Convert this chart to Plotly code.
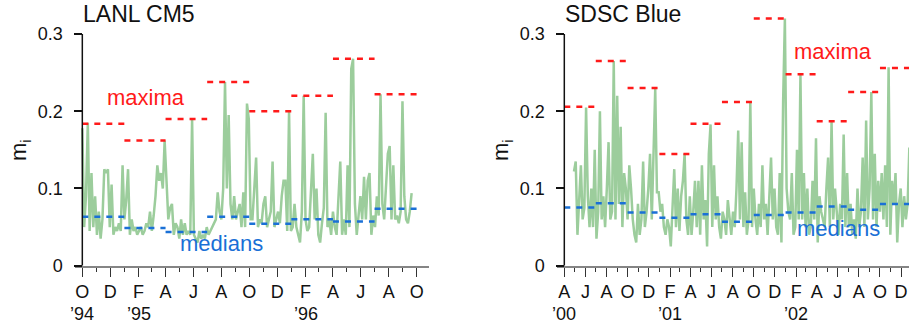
import pandas as pd
import plotly.graph_objects as go

W, H = 909, 329

# ---------------- data ----------------
lanl_start = "1994-10-01"
lanl_step_days = 4
lanl_values = [
    0.178, 0.05, 0.09, 0.185, 0.045, 0.12, 0.05, 0.09, 0.04, 0.07,
    0.035, 0.06, 0.125, 0.12, 0.125, 0.05, 0.105, 0.04, 0.05, 0.045,
    0.055, 0.045, 0.13, 0.06, 0.085, 0.125, 0.04, 0.06, 0.045, 0.05,
    0.04, 0.045, 0.05, 0.04, 0.045, 0.055, 0.05, 0.07, 0.045, 0.065,
    0.09, 0.13, 0.11, 0.12, 0.1, 0.162, 0.1, 0.06, 0.075, 0.08,
    0.04, 0.055, 0.05, 0.035, 0.06, 0.04, 0.055, 0.04, 0.045, 0.04,
    0.19, 0.04, 0.035, 0.03, 0.045, 0.035, 0.04, 0.035, 0.05, 0.04,
    0.045, 0.05, 0.055, 0.06, 0.095, 0.07, 0.06, 0.1, 0.238, 0.1,
    0.195, 0.08, 0.06, 0.09, 0.06, 0.07, 0.08, 0.05, 0.095, 0.05,
    0.21, 0.19, 0.06, 0.06, 0.095, 0.14, 0.05, 0.06, 0.055, 0.08,
    0.09, 0.05, 0.06, 0.07, 0.135, 0.05, 0.06, 0.07, 0.055, 0.09,
    0.11, 0.11, 0.045, 0.2, 0.045, 0.05, 0.08, 0.05, 0.04, 0.03,
    0.07, 0.22, 0.06, 0.045, 0.05, 0.1, 0.145, 0.06, 0.1, 0.04,
    0.03, 0.055, 0.075, 0.198, 0.05, 0.06, 0.04, 0.07, 0.05, 0.04,
    0.09, 0.135, 0.04, 0.06, 0.04, 0.13, 0.05, 0.255, 0.268, 0.08,
    0.04, 0.07, 0.09, 0.06, 0.115, 0.06, 0.11, 0.12, 0.04, 0.065,
    0.05, 0.09, 0.065, 0.222, 0.08, 0.06, 0.1, 0.145, 0.155, 0.06,
    0.13, 0.06, 0.065, 0.055, 0.07, 0.213, 0.09, 0.06, 0.055, 0.07,
    0.094,
]
lanl_quarters = ["1994-10-01", "1995-01-01", "1995-04-01", "1995-07-01", "1995-10-01",
                 "1996-01-01", "1996-04-01", "1996-07-01", "1996-10-01"]
lanl_maxima = [0.184, 0.162, 0.19, 0.238, 0.2, 0.22, 0.268, 0.222]
lanl_medians = [0.0635, 0.0488, 0.0436, 0.0635, 0.0544, 0.06, 0.0574, 0.0738]
lanl_tickvals = ["1994-10-01", "1994-12-01", "1995-02-01", "1995-04-01", "1995-06-01",
                 "1995-08-01", "1995-10-01", "1995-12-01", "1996-02-01", "1996-04-01",
                 "1996-06-01", "1996-08-01", "1996-10-01"]
lanl_ticktext = ["O", "D", "F", "A", "J", "A", "O", "D", "F", "A", "J", "A", "O"]
lanl_year_pos = ["1994-10-01", "1995-02-01", "1996-02-01"]
lanl_year_text = ["’94", "’95", "’96"]

sdsc_start = "2000-04-29"
sdsc_step_days = 5
sdsc_values = [
    0.122, 0.135, 0.04, 0.09, 0.13, 0.06, 0.075, 0.205, 0.09, 0.05,
    0.1, 0.05, 0.15, 0.035, 0.07, 0.2, 0.06, 0.09, 0.05, 0.1,
    0.16, 0.06, 0.07, 0.265, 0.06, 0.22, 0.08, 0.18, 0.05, 0.12,
    0.1, 0.06, 0.13, 0.1, 0.06, 0.04, 0.03, 0.08, 0.04, 0.06,
    0.135, 0.05, 0.07, 0.1, 0.145, 0.06, 0.16, 0.229, 0.095, 0.095,
    0.07, 0.08, 0.05, 0.04, 0.06, 0.05, 0.025, 0.07, 0.125, 0.05,
    0.1, 0.045, 0.09, 0.11, 0.145, 0.06, 0.04, 0.09, 0.04, 0.07,
    0.11, 0.05, 0.11, 0.04, 0.13, 0.06, 0.085, 0.025, 0.145, 0.183,
    0.05, 0.13, 0.06, 0.09, 0.05, 0.035, 0.07, 0.06, 0.04, 0.085,
    0.06, 0.04, 0.07, 0.05, 0.1, 0.175, 0.06, 0.16, 0.05, 0.095,
    0.04, 0.06, 0.212, 0.05, 0.1, 0.06, 0.04, 0.08, 0.05, 0.13,
    0.06, 0.08, 0.04, 0.1, 0.14, 0.06, 0.1, 0.05, 0.04, 0.12,
    0.03, 0.215, 0.32, 0.1, 0.07, 0.06, 0.12, 0.04, 0.05, 0.15,
    0.06, 0.247, 0.06, 0.12, 0.05, 0.1, 0.04, 0.05, 0.11, 0.06,
    0.165, 0.03, 0.09, 0.07, 0.06, 0.05, 0.1, 0.14, 0.05, 0.187,
    0.06, 0.1, 0.07, 0.04, 0.08, 0.06, 0.17, 0.05, 0.12, 0.05,
    0.08, 0.04, 0.06, 0.035, 0.1, 0.05, 0.07, 0.14, 0.05, 0.188,
    0.06, 0.1, 0.225, 0.06, 0.145, 0.05, 0.11, 0.07, 0.12, 0.06,
    0.13, 0.05, 0.257, 0.04, 0.11, 0.08, 0.12, 0.03, 0.08, 0.1,
    0.05, 0.09, 0.06, 0.08, 0.153,
]
sdsc_quarters = ["2000-04-01", "2000-07-01", "2000-10-01", "2001-01-01", "2001-04-01",
                 "2001-07-01", "2001-10-01", "2002-01-01", "2002-04-01", "2002-07-01",
                 "2002-10-01", "2003-01-01"]
sdsc_maxima = [0.206, 0.265, 0.23, 0.1446, 0.184, 0.212, 0.32, 0.248, 0.187, 0.225, 0.256]
sdsc_medians = [0.0755, 0.081, 0.069, 0.062, 0.0665, 0.057, 0.0656, 0.069, 0.0768, 0.0725, 0.08]
sdsc_tickvals = ["2000-04-01", "2000-06-01", "2000-08-01", "2000-10-01", "2000-12-01",
                 "2001-02-01", "2001-04-01", "2001-06-01", "2001-08-01", "2001-10-01",
                 "2001-12-01", "2002-02-01", "2002-04-01", "2002-06-01", "2002-08-01",
                 "2002-10-01", "2002-12-01"]
sdsc_ticktext = ["A", "J", "A", "O", "D", "F", "A", "J", "A", "O", "D",
                 "F", "A", "J", "A", "O", "D"]
sdsc_year_pos = ["2000-04-01", "2001-02-01", "2002-02-01"]
sdsc_year_text = ["’00", "’01", "’02"]

y_tickvals = [0, 0.1, 0.2, 0.3]
y_ticktext = ["0", "0.1", "0.2", "0.3"]

# ---------------- styling ----------------
FONT = "Liberation Sans, Arial, Helvetica, sans-serif"
GREEN = "#9ccd9c"
RED = "#ff1a1a"
BLUE = "#1a70d6"
INK = "#111111"


def px_x(p):
    return p / W


def px_y(p):
    return 1 - p / H


Y_DOM = [px_y(265.7), px_y(10.9)]


def seg_xy(quarters, vals):
    xs, ys = [], []
    for i, v in enumerate(vals):
        xs += [quarters[i], quarters[i + 1], None]
        ys += [v, v, None]
    return xs, ys


fig = go.Figure()

panels = [
    dict(xa="x", ya="y", start=lanl_start, step=lanl_step_days, vals=lanl_values,
         q=lanl_quarters, mx=lanl_maxima, md=lanl_medians,
         ypos=lanl_year_pos, ytext=lanl_year_text),
    dict(xa="x2", ya="y2", start=sdsc_start, step=sdsc_step_days, vals=sdsc_values,
         q=sdsc_quarters, mx=sdsc_maxima, md=sdsc_medians,
         ypos=sdsc_year_pos, ytext=sdsc_year_text),
]

for p in panels:
    dates = pd.date_range(p["start"], periods=len(p["vals"]), freq=f"{p['step']}D")
    fig.add_trace(go.Scatter(x=dates, y=p["vals"], mode="lines",
                             line=dict(color=GREEN, width=2.5),
                             xaxis=p["xa"], yaxis=p["ya"], showlegend=False,
                             hoverinfo="skip"))
    sx, sy = seg_xy(p["q"], p["md"])
    fig.add_trace(go.Scatter(x=sx, y=sy, mode="lines",
                             line=dict(color=BLUE, width=2.5, dash="6px,6px"),
                             xaxis=p["xa"], yaxis=p["ya"], showlegend=False,
                             connectgaps=False, hoverinfo="skip"))
    sx, sy = seg_xy(p["q"], p["mx"])
    fig.add_trace(go.Scatter(x=sx, y=sy, mode="lines",
                             line=dict(color=RED, width=2.5, dash="6px,6px"),
                             xaxis=p["xa"], yaxis=p["ya"], showlegend=False,
                             connectgaps=False, hoverinfo="skip"))
    for xv, t in zip(p["ypos"], p["ytext"]):
        fig.add_annotation(text=t, x=xv, xref=p["xa"], y=px_y(314), yref="paper",
                           xanchor="center", yanchor="middle", showarrow=False,
                           font=dict(size=18, color=INK, family=FONT))

lanl_minor = [d.strftime("%Y-%m-%d") for d in pd.date_range("1994-10-01", "1996-10-01", freq="MS")]
sdsc_minor = [d.strftime("%Y-%m-%d") for d in pd.date_range("2000-04-01", "2002-12-01", freq="MS")]

xcommon = dict(showline=True, linecolor="#858585", linewidth=2, ticks="outside",
               ticklen=9, tickwidth=1.3, tickcolor="#333333", showgrid=False,
               zeroline=False, tickfont=dict(size=18, color=INK, family=FONT),
               tickmode="array", ticklabelstandoff=0, automargin=False)
ycommon = dict(domain=Y_DOM, range=[0, 0.33], anchor="free",
               tickmode="array", tickvals=y_tickvals, ticktext=y_ticktext,
               ticks="outside", ticklen=8, tickwidth=1.5, tickcolor=INK,
               showline=False, showgrid=False, zeroline=False, automargin=False,
               tickfont=dict(size=18, color=INK, family=FONT), ticklabelstandoff=8)

fig.update_layout(
    width=W, height=H, margin=dict(l=0, r=0, t=0, b=0, autoexpand=False),
    paper_bgcolor="white", plot_bgcolor="white",
    font=dict(family=FONT, color=INK),
    xaxis=dict(domain=[px_x(75), px_x(429)], range=["1994-09-15", "1996-10-28"],
               anchor="y", tickvals=lanl_tickvals, ticktext=lanl_ticktext,
               minor=dict(tickmode="array", tickvals=lanl_minor, ticks="outside",
                          ticklen=4, tickwidth=1.3, tickcolor="#333333"),
               **xcommon),
    xaxis2=dict(domain=[px_x(556.7), 1.0], range=["2000-03-10", "2002-12-24"],
                anchor="y2", tickvals=sdsc_tickvals, ticktext=sdsc_ticktext,
                minor=dict(tickmode="array", tickvals=sdsc_minor, ticks="outside",
                           ticklen=4, tickwidth=1.3, tickcolor="#333333"),
                **xcommon),
    yaxis=dict(position=px_x(82.3), **ycommon),
    yaxis2=dict(position=px_x(564.3), **ycommon),
)

# y axis lines (from 0 to 0.3)
fig.add_shape(type="line", xref="x", yref="y", x0=lanl_quarters[0], x1=lanl_quarters[0],
              y0=0, y1=0.3, line=dict(color=INK, width=1.5))
fig.add_shape(type="line", xref="x2", yref="y2", x0=sdsc_quarters[0], x1=sdsc_quarters[0],
              y0=0, y1=0.3, line=dict(color=INK, width=1.5))

ann = [
    dict(text="LANL CM5", x=px_x(81), y=px_y(14), size=23, color=INK),
    dict(text="SDSC Blue", x=px_x(563), y=px_y(14), size=23, color=INK),
    dict(text="maxima", x=px_x(105), y=px_y(97), size=22, color=RED),
    dict(text="medians", x=px_x(178), y=px_y(243), size=22, color=BLUE),
    dict(text="maxima", x=px_x(792), y=px_y(51), size=22, color=RED),
    dict(text="medians", x=px_x(795), y=px_y(228), size=22, color=BLUE),
]
for a in ann:
    fig.add_annotation(text=a["text"], x=a["x"], y=a["y"], xref="paper", yref="paper",
                       xanchor="left", yanchor="middle", showarrow=False,
                       font=dict(size=a["size"], color=a["color"], family=FONT))

for xp in (20, 502):
    fig.add_annotation(text="m<sub>i</sub>", x=px_x(xp), y=px_y(150), xref="paper",
                       yref="paper", xanchor="center", yanchor="middle", showarrow=False,
                       textangle=-90, font=dict(size=22, color=INK, family=FONT))

fig.write_html("out.html", config={"displayModeBar": False},
               post_script="document.body.style.margin='0px';")
